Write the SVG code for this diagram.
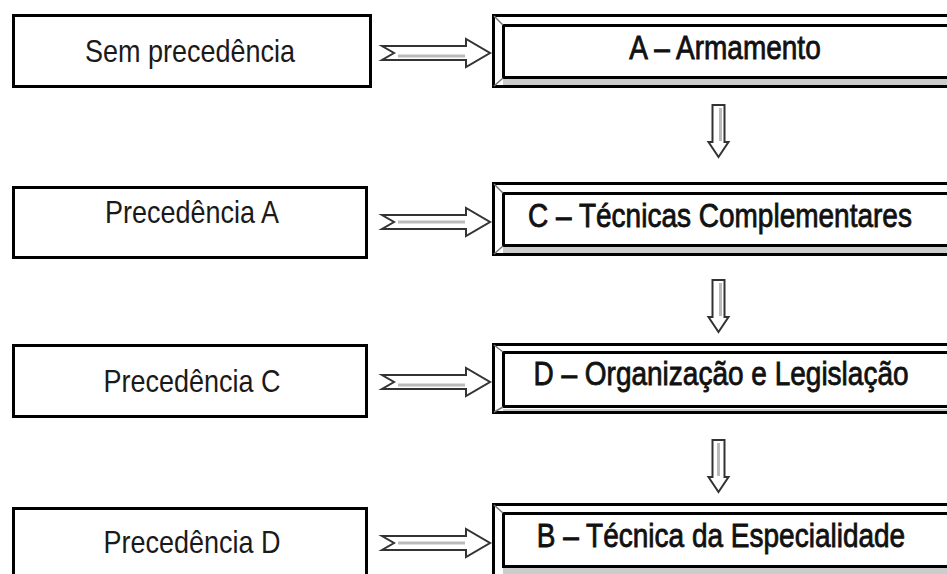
<svg xmlns="http://www.w3.org/2000/svg" xmlns:xlink="http://www.w3.org/1999/xlink" width="947" height="574" viewBox="0 0 947 574">
<style>
.lbox{fill:#fff;stroke:#000;stroke-width:3}
.rout{fill:#fff;stroke:#000;stroke-width:3}
.rin{fill:#fff;stroke:#000;stroke-width:3}
.band{fill:#cccccc}
.bev{stroke:#777;stroke-width:1.5}
.lt{font-family:"Liberation Sans",Arial,sans-serif;font-size:27px;fill:#1a1a1a;text-anchor:middle}
.rt{font-family:"Liberation Sans",Arial,sans-serif;font-size:28px;fill:#111;stroke:#111;stroke-width:0.7;text-anchor:middle}
.arr{fill:#fff;stroke:#333;stroke-width:2;stroke-linejoin:miter}
.sh{stroke:#bbb;stroke-width:3;fill:none}
</style>
<defs>
<path id="ra" d="M0,-7 H84 V-14 L108,0 L84,14 V7 H0 L12,0 Z"/>
<path id="da" d="M-6,0 H6 V37 H10 L0,52 L-10,37 H-6 Z"/>
</defs>
<rect width="947" height="574" fill="#fff"/>

<g id="n-sem">
<rect class="lbox" x="13.5" y="15.5" width="357" height="71"/>
<text class="lt" transform="translate(190,62) scale(1,1.13)">Sem precedência</text>
</g>
<g id="n-precA">
<rect class="lbox" x="13.5" y="187.5" width="353" height="70"/>
<text class="lt" transform="translate(192,223) scale(1,1.13)">Precedência A</text>
</g>
<g id="n-precC">
<rect class="lbox" x="13.5" y="345.5" width="353" height="71"/>
<text class="lt" transform="translate(192,392) scale(1,1.13)">Precedência C</text>
</g>
<g id="n-precD">
<rect class="lbox" x="13.5" y="508.5" width="353" height="80"/>
<text class="lt" transform="translate(192,553) scale(1,1.13)">Precedência D</text>
</g>

<g id="n-A">
<rect class="rout" x="493.5" y="15.5" width="470" height="71"/>
<rect class="band" x="503" y="79" width="460" height="6"/>
<rect class="rin" x="503.5" y="25.5" width="460" height="52"/>
<line class="bev" x1="494" y1="16" x2="503" y2="25"/>
<line class="bev" x1="494" y1="86" x2="503" y2="78"/>
<text class="rt" transform="translate(725,59) scale(1,1.17)">A – Armamento</text>
</g>
<g id="n-C">
<rect class="rout" x="493.5" y="183.5" width="470" height="71"/>
<rect class="band" x="503" y="247" width="460" height="6"/>
<rect class="rin" x="503.5" y="193.5" width="460" height="52"/>
<line class="bev" x1="494" y1="184" x2="503" y2="193"/>
<line class="bev" x1="494" y1="254" x2="503" y2="246"/>
<text class="rt" transform="translate(720,227) scale(1,1.17)">C – Técnicas Complementares</text>
</g>
<g id="n-D">
<rect class="rout" x="493.5" y="344.5" width="470" height="68"/>
<rect class="band" x="503" y="409" width="460" height="2"/>
<rect class="rin" x="503.5" y="352.5" width="460" height="54"/>
<line class="bev" x1="494" y1="345" x2="503" y2="352"/>
<line class="bev" x1="494" y1="412" x2="503" y2="407"/>
<text class="rt" transform="translate(721,385) scale(1,1.17)">D – Organização e Legislação</text>
</g>
<g id="n-B">
<rect class="rout" x="493.5" y="504.5" width="470" height="90"/>
<rect class="band" x="503" y="568" width="460" height="10"/>
<rect class="rin" x="503.5" y="513.5" width="460" height="53"/>
<line class="bev" x1="494" y1="505" x2="503" y2="513"/>
<text class="rt" transform="translate(721,547) scale(1,1.17)">B – Técnica da Especialidade</text>
</g>

<g id="connectors">
<use xlink:href="#ra" class="arr" transform="translate(382,53)"/>
<line class="sh" x1="16" y1="3" x2="83" y2="3" transform="translate(382,53)"/>
<use xlink:href="#ra" class="arr" transform="translate(382,222)"/>
<line class="sh" x1="16" y1="0" x2="83" y2="0" transform="translate(382,222)"/>
<use xlink:href="#ra" class="arr" transform="translate(382,382)"/>
<line class="sh" x1="16" y1="3" x2="83" y2="3" transform="translate(382,382)"/>
<use xlink:href="#ra" class="arr" transform="translate(382,543)"/>
<line class="sh" x1="16" y1="0" x2="83" y2="0" transform="translate(382,543)"/>
<use xlink:href="#da" class="arr" transform="translate(718.5,105)"/>
<line class="sh" x1="2" y1="3" x2="2" y2="36" transform="translate(718.5,105)"/>
<use xlink:href="#da" class="arr" transform="translate(718.5,280)"/>
<line class="sh" x1="2" y1="3" x2="2" y2="36" transform="translate(718.5,280)"/>
<use xlink:href="#da" class="arr" transform="translate(718.5,440)"/>
<line class="sh" x1="0" y1="3" x2="0" y2="36" transform="translate(718.5,440)"/>
</g>
</svg>
